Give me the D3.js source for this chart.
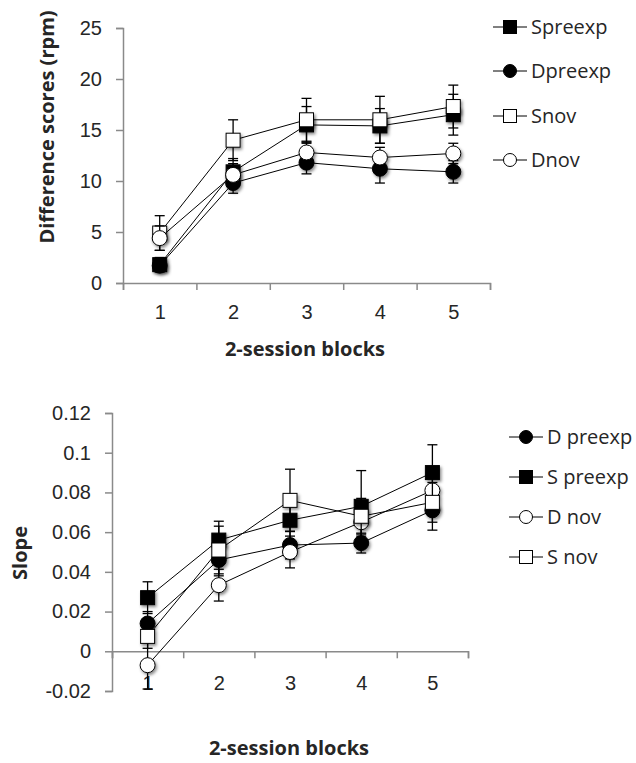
<!DOCTYPE html>
<html>
<head>
<meta charset="utf-8">
<script src="https://cdn.jsdelivr.net/npm/d3@7"></script>
<style>
  body { margin: 0; background: #fff; }
  svg { display: block; font-family: "Open Sans", sans-serif; }
</style>
</head>
<body>
<div id="chart"></div>
<script>
// ---- data ----
const blocks = [1, 2, 3, 4, 5];

// top panel: difference scores (rpm)
const topNames = ['Spreexp', 'Dpreexp', 'Snov', 'Dnov'];
const topSpreexp = [1.8, 10.9, 15.5, 15.4, 16.5];
const topSpreexpErr = [0.7, 1.3, 1.8, 1.7, 2.0];
const topDpreexp = [1.7, 9.8, 11.8, 11.2, 10.9];
const topDpreexpErr = [0.6, 1.0, 1.1, 1.4, 1.1];
const topSnov = [4.9, 14.0, 16.0, 16.0, 17.3];
const topSnovErr = [1.7, 2.0, 2.1, 2.3, 2.1];
const topDnov = [4.4, 10.6, 12.8, 12.3, 12.7];
const topDnovErr = [1.2, 1.1, 1.0, 1.0, 1.0];
const topTicks = [0, 5, 10, 15, 20, 25];

// bottom panel: slope
const botNames = ['D preexp', 'S preexp', 'D nov', 'S nov'];
const botDpreexp = [0.014, 0.046, 0.0535, 0.0545, 0.071];
const botDpreexpErr = [0.006, 0.008, 0.007, 0.005, 0.010];
const botSpreexp = [0.027, 0.056, 0.066, 0.073, 0.090];
const botSpreexpErr = [0.008, 0.0095, 0.010, 0.018, 0.014];
const botDnov = [-0.007, 0.0333, 0.050, 0.065, 0.081];
const botDnovErr = [0.012, 0.008, 0.008, 0.007, 0.009];
const botSnov = [0.0075, 0.051, 0.076, 0.068, 0.075];
const botSnovErr = [0.006, 0.012, 0.0157, 0.009, 0.010];
const botTicks = [-0.02, 0, 0.02, 0.04, 0.06, 0.08, 0.1, 0.12];

const W = 636, H = 763;
const axisColor = '#8a8a8a';
const textColor = '#262626';

const svg = d3.select('#chart').append('svg')
    .attr('width', W)
    .attr('height', H);

// soft drop shadow used on the markers
const defs = svg.append('defs');
defs.append('filter')
    .attr('id', 'shadow')
    .attr('x', '-50%').attr('y', '-50%')
    .attr('width', '200%').attr('height', '200%')
  .append('feDropShadow')
    .attr('dx', 1.5).attr('dy', 2)
    .attr('stdDeviation', 1.5)
    .attr('flood-color', '#000')
    .attr('flood-opacity', 0.45);

function drawMarker(g, shape, fill, size, useShadow) {
    let m;
    if (shape === 'square') {
        m = g.append('rect')
            .attr('x', -size / 2).attr('y', -size / 2)
            .attr('width', size).attr('height', size);
    } else {
        m = g.append('circle').attr('r', size / 2);
    }
    m.attr('fill', fill)
        .attr('stroke', '#000')
        .attr('stroke-width', 1);
    if (useShadow) m.attr('filter', 'url(#shadow)');
    return m;
}

function drawPanel(cfg) {
    const g = svg.append('g');

    const x = d3.scaleLinear().domain([0.5, 5.5]).range([cfg.left, cfg.right]);
    const y = d3.scaleLinear().domain(cfg.yDomain).range([cfg.bottom, cfg.top]);

    // y axis
    const yAxis = g.append('g')
        .attr('transform', `translate(${cfg.left},0)`)
        .call(d3.axisLeft(y).tickValues(cfg.yTicks).tickSize(7).tickPadding(14)
            .tickFormat(cfg.yFormat));
    yAxis.select('.domain').attr('stroke', axisColor).attr('stroke-width', 1.5);
    yAxis.selectAll('.tick line').attr('stroke', axisColor).attr('stroke-width', 1.5);
    yAxis.selectAll('.tick text').attr('fill', textColor)
        .style('font-size', cfg.tickFont + 'px');

    // x axis line with category boundary ticks
    const x0 = y(cfg.xCross);
    const xAxis = g.append('g')
        .attr('transform', `translate(0,${x0})`)
        .call(d3.axisBottom(x).tickValues([0.5, 1.5, 2.5, 3.5, 4.5, 5.5])
            .tickSize(7).tickFormat(''));
    xAxis.select('.domain').attr('stroke', axisColor).attr('stroke-width', 1.5);
    xAxis.selectAll('.tick line').attr('stroke', axisColor).attr('stroke-width', 1.5);

    // category labels
    const xLab = g.append('g')
        .attr('transform', `translate(0,${cfg.labelY})`)
        .call(d3.axisBottom(x).tickValues(blocks).tickSize(0).tickPadding(0)
            .tickFormat(d3.format('d')));
    xLab.select('.domain').remove();
    xLab.selectAll('.tick text').attr('fill', textColor)
        .style('font-size', cfg.tickFont + 'px');

    // series, drawn in legend order
    const line = d3.line().x((d, i) => x(blocks[i])).y(d => y(d));
    cfg.series.forEach(s => {
        const sg = g.append('g');
        sg.append('path')
            .datum(s.values)
            .attr('d', line)
            .attr('fill', 'none')
            .attr('stroke', '#000')
            .attr('stroke-width', 1);

        // error bars
        s.values.forEach((v, i) => {
            const cx = x(blocks[i]);
            const e = s.err[i];
            const eb = sg.append('g').attr('stroke', '#000').attr('stroke-width', 1.3);
            eb.append('line').attr('x1', cx).attr('x2', cx)
                .attr('y1', y(v - e)).attr('y2', y(v + e));
            [v - e, v + e].forEach(t => {
                eb.append('line').attr('x1', cx - 5).attr('x2', cx + 5)
                    .attr('y1', y(t)).attr('y2', y(t));
            });
        });

        // markers
        s.values.forEach((v, i) => {
            const mg = sg.append('g')
                .attr('transform', `translate(${x(blocks[i])},${y(v)})`);
            drawMarker(mg, s.shape, s.fill, s.shape === 'square' ? 14 : 15, true);
        });
    });

    // legend
    cfg.series.forEach((s, i) => {
        const ly = cfg.legend.y[i];
        const lg = g.append('g').attr('transform', `translate(${cfg.legend.x},${ly})`);
        lg.append('line').attr('x1', 0).attr('x2', 34)
            .attr('y1', 0).attr('y2', 0)
            .attr('stroke', '#000').attr('stroke-width', 1);
        const mg = lg.append('g').attr('transform', 'translate(17,0)');
        drawMarker(mg, s.shape, s.fill, 13, false);
        lg.append('text')
            .attr('x', 38)
            .attr('y', 0)
            .attr('dy', '0.35em')
            .attr('fill', textColor)
            .style('font-size', cfg.legend.font + 'px')
            .text(s.name);
    });

    // axis titles
    g.append('text')
        .attr('transform', `translate(${cfg.yTitle.x},${cfg.yTitle.y}) rotate(-90)`)
        .attr('text-anchor', 'middle')
        .attr('dy', '0.35em')
        .attr('fill', textColor)
        .style('font-size', '20px')
        .style('font-weight', 'bold')
        .text(cfg.yTitle.text);

    g.append('text')
        .attr('x', cfg.xTitle.x)
        .attr('y', cfg.xTitle.y)
        .attr('text-anchor', 'middle')
        .attr('fill', textColor)
        .style('font-size', '20px')
        .style('font-weight', 'bold')
        .text('2-session blocks');
}

drawPanel({
    left: 123, right: 490, top: 28, bottom: 283,
    yDomain: [0, 25], yTicks: topTicks, yFormat: d3.format('d'),
    xCross: 0, labelY: 305, tickFont: 20,
    series: [
        { name: topNames[0], values: topSpreexp, err: topSpreexpErr, shape: 'square', fill: '#000' },
        { name: topNames[1], values: topDpreexp, err: topDpreexpErr, shape: 'circle', fill: '#000' },
        { name: topNames[2], values: topSnov, err: topSnovErr, shape: 'square', fill: '#fff' },
        { name: topNames[3], values: topDnov, err: topDnovErr, shape: 'circle', fill: '#fff' }
    ],
    legend: { x: 493, y: [27, 71, 116, 160], font: 20 },
    yTitle: { x: 47, y: 127, text: 'Difference scores (rpm)' },
    xTitle: { x: 305, y: 356 }
});

drawPanel({
    left: 112, right: 468, top: 413, bottom: 691,
    yDomain: [-0.02, 0.12], yTicks: botTicks, yFormat: d => String(+d.toFixed(2)),
    xCross: 0, labelY: 676, tickFont: 20,
    series: [
        { name: botNames[0], values: botDpreexp, err: botDpreexpErr, shape: 'circle', fill: '#000' },
        { name: botNames[1], values: botSpreexp, err: botSpreexpErr, shape: 'square', fill: '#000' },
        { name: botNames[2], values: botDnov, err: botDnovErr, shape: 'circle', fill: '#fff' },
        { name: botNames[3], values: botSnov, err: botSnovErr, shape: 'square', fill: '#fff' }
    ],
    legend: { x: 509, y: [437, 477, 517, 557], font: 20 },
    yTitle: { x: 20, y: 553, text: 'Slope' },
    xTitle: { x: 289, y: 755 }
});
</script>
</body>
</html>
